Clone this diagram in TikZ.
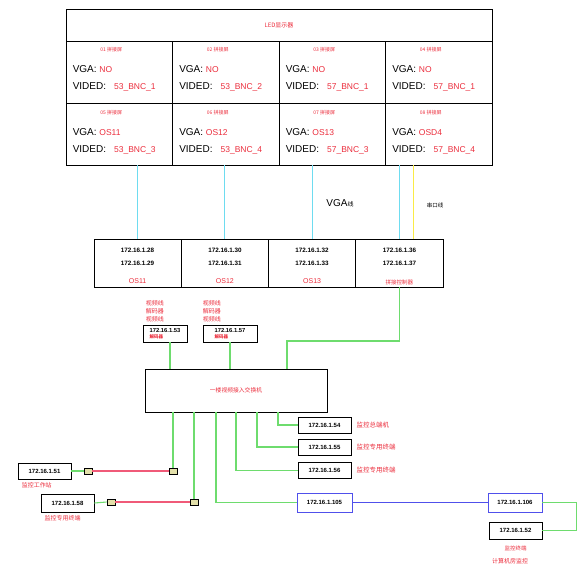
\documentclass[tikz,border=0pt]{standalone}
\usepackage{fontspec}
\setmainfont{Liberation Sans}
\newfontfamily\cjk{Noto Sans CJK SC}
\definecolor{txtred}{RGB}{235,45,60}
\definecolor{lanGreen}{RGB}{110,220,110}
\definecolor{vgaCyan}{RGB}{110,220,240}
\definecolor{serYellow}{RGB}{250,235,70}
\definecolor{fibRed}{RGB}{240,90,120}
\definecolor{fibBlue}{RGB}{80,80,235}
\newcommand{\rv}[1]{{\fontsize{8.5}{10}\selectfont\textcolor{txtred}{#1}}}
\newcommand{\rtag}[1]{{\cjk\fontsize{4.5}{5}\selectfont\textcolor{txtred}{#1}}}
\begin{document}
\begin{tikzpicture}[x=1pt,y=-1pt,%
% common options for the screen cells:
cell/.style = {draw, line width=0.9pt, inner sep=0},
hdr/.style = {font=\cjk\fontsize{5}{6}\selectfont, text=txtred, inner sep=0},
info/.style = {font=\fontsize{10}{12}\selectfont, anchor=west, inner sep=0},
% common options for the boxes with addresses:
ipbox/.style = {draw, line width=0.9pt, minimum width=53, minimum height=16,
            inner sep=0, font=\bfseries\fontsize{6}{7}\selectfont},
iptxt/.style = {font=\bfseries\fontsize{6.3}{7}\selectfont, inner sep=0},
rlbl/.style = {font=\cjk\fontsize{6.5}{7}\selectfont, text=txtred, inner sep=0},
sqr/.style = {draw, line width=0.7pt, fill=olive!25, minimum width=8,
            minimum height=6, inner sep=0},
% lines:
vga/.style = {draw=vgaCyan, line width=1pt},
ser/.style = {draw=serYellow, line width=1pt},
lan/.style = {draw=lanGreen, line width=1.1pt},
fibr/.style = {draw=fibRed, line width=1.1pt},
fibb/.style = {draw=fibBlue, line width=1.4pt}]
\useasboundingbox (0,0) rectangle (582,566);
% LED wall
\node[cell, minimum width=426, minimum height=32, font=\cjk\fontsize{6}{7}\selectfont,
      text=txtred] (led) at (279,25) {LED显示器};
\node[cell, minimum width=106.5, minimum height=62] (S1) at (119.25,72) {};
\node[cell, minimum width=106.5, minimum height=62] (S2) at (225.75,72) {};
\node[cell, minimum width=106.5, minimum height=62] (S3) at (332.25,72) {};
\node[cell, minimum width=106.5, minimum height=62] (S4) at (438.75,72) {};
\node[cell, minimum width=106.5, minimum height=62] (S5) at (119.25,134) {};
\node[cell, minimum width=106.5, minimum height=62] (S6) at (225.75,134) {};
\node[cell, minimum width=106.5, minimum height=62] (S7) at (332.25,134) {};
\node[cell, minimum width=106.5, minimum height=62] (S8) at (438.75,134) {};
\node[hdr] (h1) at ([xshift=-8,yshift=-9]S1.north) {01 拼接屏};
\node[hdr] (h2) at ([xshift=-8,yshift=-9]S2.north) {02 拼接屏};
\node[hdr] (h3) at ([xshift=-8,yshift=-9]S3.north) {03 拼接屏};
\node[hdr] (h4) at ([xshift=-8,yshift=-9]S4.north) {04 拼接屏};
\node[hdr] (h5) at ([xshift=-8,yshift=-10]S5.north) {05 拼接屏};
\node[hdr] (h6) at ([xshift=-8,yshift=-10]S6.north) {06 拼接屏};
\node[hdr] (h7) at ([xshift=-8,yshift=-10]S7.north) {07 拼接屏};
\node[hdr] (h8) at ([xshift=-8,yshift=-10]S8.north) {08 拼接屏};
\node[info] (g1) at ([xshift=7,yshift=-29]S1.north west) {VGA: \rv{NO}};
\node[info] (g2) at ([xshift=7,yshift=-29]S2.north west) {VGA: \rv{NO}};
\node[info] (g3) at ([xshift=7,yshift=-29]S3.north west) {VGA: \rv{NO}};
\node[info] (g4) at ([xshift=7,yshift=-29]S4.north west) {VGA: \rv{NO}};
\node[info] (g5) at ([xshift=7,yshift=-30]S5.north west) {VGA: \rv{OS11}};
\node[info] (g6) at ([xshift=7,yshift=-30]S6.north west) {VGA: \rv{OS12}};
\node[info] (g7) at ([xshift=7,yshift=-30]S7.north west) {VGA: \rv{OS13}};
\node[info] (g8) at ([xshift=7,yshift=-30]S8.north west) {VGA: \rv{OSD4}};
\node[info] (v1) at ([xshift=7,yshift=-46]S1.north west) {VIDED:\hspace{8pt}\rv{53\_BNC\_1}};
\node[info] (v2) at ([xshift=7,yshift=-46]S2.north west) {VIDED:\hspace{8pt}\rv{53\_BNC\_2}};
\node[info] (v3) at ([xshift=7,yshift=-46]S3.north west) {VIDED:\hspace{8pt}\rv{57\_BNC\_1}};
\node[info] (v4) at ([xshift=7,yshift=-46]S4.north west) {VIDED:\hspace{8pt}\rv{57\_BNC\_1}};
\node[info] (v5) at ([xshift=7,yshift=-47]S5.north west) {VIDED:\hspace{8pt}\rv{53\_BNC\_3}};
\node[info] (v6) at ([xshift=7,yshift=-47]S6.north west) {VIDED:\hspace{8pt}\rv{53\_BNC\_4}};
\node[info] (v7) at ([xshift=7,yshift=-47]S7.north west) {VIDED:\hspace{8pt}\rv{57\_BNC\_3}};
\node[info] (v8) at ([xshift=7,yshift=-47]S8.north west) {VIDED:\hspace{8pt}\rv{57\_BNC\_4}};
% decoders / controller
\node[cell, minimum width=87.25, minimum height=48] (D1) at (137.6,263) {};
\node[cell, minimum width=87.25, minimum height=48] (D2) at (224.9,263) {};
\node[cell, minimum width=87.25, minimum height=48] (D3) at (312.1,263) {};
\node[cell, minimum width=87.25, minimum height=48] (D4) at (399.4,263) {};
\node[iptxt] (a1) at ([yshift=-12]D1.north) {172.16.1.28};
\node[iptxt] (b1) at ([yshift=-25]D1.north) {172.16.1.29};
\node[iptxt] (a2) at ([yshift=-12]D2.north) {172.16.1.30};
\node[iptxt] (b2) at ([yshift=-25]D2.north) {172.16.1.31};
\node[iptxt] (a3) at ([yshift=-12]D3.north) {172.16.1.32};
\node[iptxt] (b3) at ([yshift=-25]D3.north) {172.16.1.33};
\node[iptxt] (a4) at ([yshift=-12]D4.north) {172.16.1.36};
\node[iptxt] (b4) at ([yshift=-25]D4.north) {172.16.1.37};
\node[rlbl, font=\fontsize{7}{8}\selectfont] (o1) at ([yshift=6]D1.south) {OS11};
\node[rlbl, font=\fontsize{7}{8}\selectfont] (o2) at ([yshift=6]D2.south) {OS12};
\node[rlbl, font=\fontsize{7}{8}\selectfont] (o3) at ([yshift=6]D3.south) {OS13};
\node[rlbl, font=\cjk\fontsize{5.5}{6}\selectfont] (o4) at ([yshift=5]D4.south) {拼接控制器};
\draw[vga] (D1.north) -- (D1.north |- S5.south);
\draw[vga] (D2.north) -- (D2.north |- S6.south);
\draw[vga] (D3.north) -- (D3.north |- S7.south);
\draw[vga] (D4.north) -- (D4.north |- S8.south);
\path ([xshift=14]D4.north) coordinate (serBot);
\draw[ser] (serBot) -- (serBot |- S8.south);
\node[inner sep=0, font=\fontsize{10}{12}\selectfont] (vgaLbl) at (340,203) {VGA{\cjk\fontsize{6}{7}\selectfont 线}};
\node[inner sep=0, font=\cjk\fontsize{5.5}{6}\selectfont] (serLbl) at (435,205) {串口线};
% video decoders
\node[ipbox, minimum width=44, minimum height=17, align=left, font=\bfseries\fontsize{5.8}{6}\selectfont]
      (dec1) at (165,333.5) {172.16.1.53\\\rtag{解码器}};
\node[ipbox, minimum width=54, minimum height=17, align=left, font=\bfseries\fontsize{5.8}{6}\selectfont]
      (dec2) at (230,333.5) {172.16.1.57\\\rtag{解码器}};
\node[inner sep=0, anchor=south west, align=left, font=\cjk\fontsize{6}{8}\selectfont, text=txtred]
      (st1) at ([xshift=3,yshift=2]dec1.north west) {视频线\\解码器\\视频线};
\node[inner sep=0, anchor=south west, align=left, font=\cjk\fontsize{6}{8}\selectfont, text=txtred]
      (st2) at ([xshift=0,yshift=2]dec2.north west) {视频线\\解码器\\视频线};
% switch
\node[cell, minimum width=182, minimum height=43, font=\cjk\fontsize{5.8}{7}\selectfont,
      text=txtred] (sw) at (236,390.5) {一楼视频接入交换机};
\draw[lan] ([xshift=5]dec1.south) -- ([xshift=5]dec1.south |- sw.north);
\draw[lan] (dec2.south) -- (dec2.south |- sw.north);
\coordinate (bend) at (287,341);
\draw[lan] (D4.south) |- (bend) -- (bend |- sw.north);
% terminals
\node[ipbox] (ip54) at (324.5,425) {172.16.1.54};
\node[ipbox] (ip55) at (324.5,447) {172.16.1.55};
\node[ipbox] (ip56) at (324.5,470.5) {172.16.1.56};
\node[rlbl, anchor=west] (l54) at ([xshift=5]ip54.east) {监控总端机};
\node[rlbl, anchor=west] (l55) at ([xshift=5]ip55.east) {监控专用终端};
\node[rlbl, anchor=west] (l56) at ([xshift=5]ip56.east) {监控专用终端};
\node[ipbox] (ip51) at (44.5,471) {172.16.1.51};
\node[ipbox, minimum height=18] (ip58) at (67.5,503) {172.16.1.58};
\node[rlbl, anchor=north west, font=\cjk\fontsize{6}{7}\selectfont] (l51) at ([xshift=4,yshift=-3]ip51.south west) {监控工作站};
\node[rlbl, anchor=north west, font=\cjk\fontsize{6}{7}\selectfont] (l58) at ([xshift=4,yshift=-3]ip58.south west) {监控专用终端};
\node[sqr] (sq1) at (173,471) {};
\node[sqr] (sq2) at (194,502) {};
\node[sqr] (sq3) at (88,471) {};
\node[sqr] (sq4) at (111,502) {};
\node[ipbox, draw=fibBlue, minimum width=55, minimum height=19] (ip105) at (324.5,502.5) {172.16.1.105};
\node[ipbox, draw=fibBlue, minimum width=54, minimum height=19] (ip106) at (515,502.5) {172.16.1.106};
\node[ipbox, minimum height=17] (ip52) at (515.5,530.5) {172.16.1.52};
\node[rlbl, font=\cjk\fontsize{5.5}{6}\selectfont] (l52) at ([yshift=-9]ip52.south) {监控终端};
\node[rlbl, font=\cjk\fontsize{6}{7}\selectfont] (l52b) at (510,561) {计算机房监控};
% links from the switch
\draw[lan] (sq1.north |- sw.south) -- (sq1.north);
\draw[lan] (sq2.north |- sw.south) -- (sq2.north);
\draw[lan] ([xshift=-20]sw.south) |- (ip105.west);
\draw[lan] ([xshift=0]sw.south) |- (ip56.west);
\draw[lan] ([xshift=21]sw.south) |- (ip55.west);
\draw[lan] ([xshift=42]sw.south) |- (ip54.west);
\draw[lan] (ip51.east) -- (sq3.west);
\draw[lan] (ip58.east) -- (sq4.west);
\draw[fibr] (sq3.east) -- (sq1.west);
\draw[fibr] (sq4.east) -- (sq2.west);
\draw[fibb] (ip105.east) -- (ip106.west);
\draw[lan] (ip106.east) -- ++(34,0) |- (ip52.east);
\end{tikzpicture}
\end{document}
